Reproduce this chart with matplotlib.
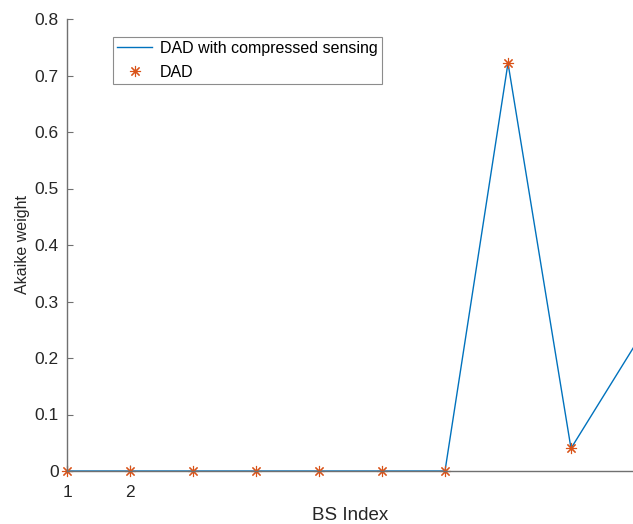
import matplotlib
matplotlib.use("Agg")
import matplotlib.pyplot as plt

plt.rcParams["font.family"] = ["Liberation Sans", "DejaVu Sans"]

# BS index and Akaike weights
bs_index = [1, 2, 3, 4, 5, 6, 7, 8, 9, 10]
weight_cs = [0, 0, 0, 0, 0, 0, 0, 0.722, 0.04, 0.22]
bs_index_dad = [1, 2, 3, 4, 5, 6, 7, 8, 9]
weight_dad = [0, 0, 0, 0, 0, 0, 0, 0.722, 0.04]

xtick_pos = [1, 2]
xtick_labels = ["1", "2"]
ytick_pos = [0, 0.1, 0.2, 0.3, 0.4, 0.5, 0.6, 0.7, 0.8]
ytick_labels = ["0", "0.1", "0.2", "0.3", "0.4", "0.5", "0.6", "0.7", "0.8"]

W, H = 633, 524
fig = plt.figure(figsize=(W / 100, H / 100), dpi=100)
ax = fig.add_axes([67 / W, 53 / H, (634 - 67) / W, (471 - 19) / H])

ax.plot(bs_index, weight_cs, color="#0072BD", linewidth=1.0, label="DAD with compressed sensing")
ax.plot(bs_index_dad, weight_dad, linestyle="none", marker=(8, 2, 0), markersize=8,
        markeredgecolor="#D95319", markeredgewidth=0.8,
        label="DAD", clip_on=False)

ax.set_xlim(1, 10)
ax.set_ylim(0, 0.8)
ax.set_xticks(xtick_pos)
ax.set_xticklabels(xtick_labels)
ax.set_yticks(ytick_pos)
ax.set_yticklabels(ytick_labels)

for s in ["top", "right"]:
    ax.spines[s].set_visible(False)
for s in ["left", "bottom"]:
    ax.spines[s].set_color("#707070")
    ax.spines[s].set_linewidth(1.0)
ax.tick_params(direction="in", length=4, colors="#707070", labelcolor="#262626", labelsize=12.5)
ax.tick_params(axis="x", pad=10)
ax.tick_params(axis="y", pad=6)

ax.set_xlabel("BS Index", fontsize=13.5, color="#262626")
ax.set_ylabel("Akaike weight", fontsize=11.5, color="#262626")
ax.xaxis.set_label_coords(0.5, -(515 - 471) / (471 - 19), transform=ax.transAxes)
ax.yaxis.set_label_coords(-(67 - 23) / (634 - 67), 0.5, transform=ax.transAxes)
ax.xaxis.label.set_va("center")
ax.yaxis.label.set_va("center")

leg = ax.legend(loc="upper left", bbox_to_anchor=((113 - 67) / (634 - 67), (471 - 37) / (471 - 19)),
                fontsize=11.5, frameon=True, fancybox=False, borderaxespad=0,
                handlelength=2.2, handletextpad=0.5, borderpad=0.25, labelspacing=0.55)
leg.get_frame().set_edgecolor("#707070")
leg.get_frame().set_linewidth(0.8)

fig.savefig("out.png", dpi=100)
